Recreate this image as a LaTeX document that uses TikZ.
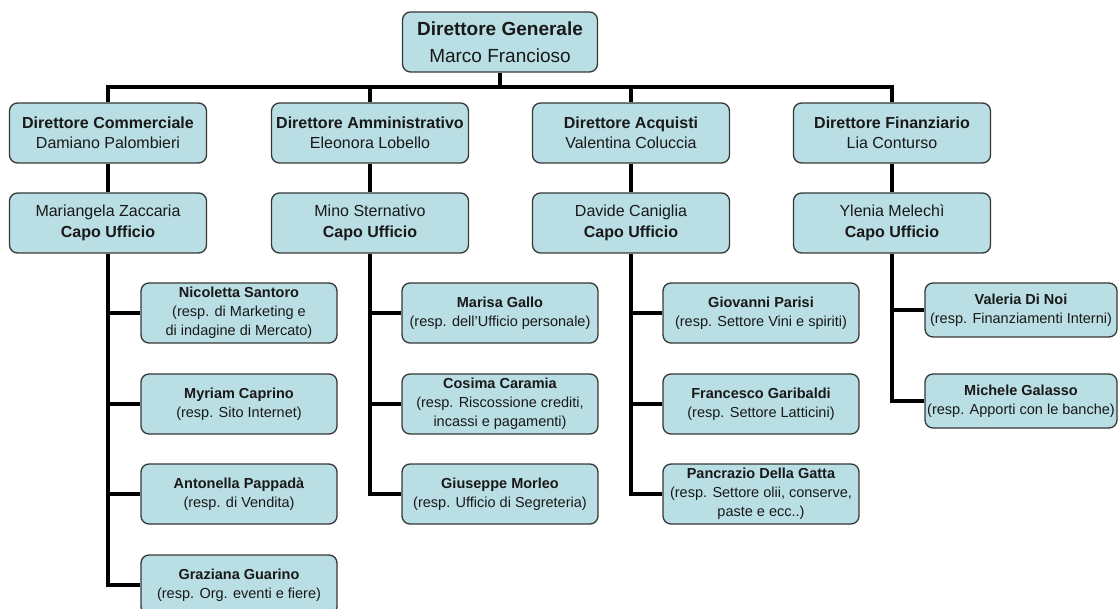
\documentclass[tikz,border=0pt]{standalone}
\usepackage{fontspec}
\setmainfont{Liberation Sans}
\usetikzlibrary{positioning}
\definecolor{boxfill}{RGB}{185,222,228}
\definecolor{boxline}{RGB}{55,55,55}

\begin{document}
\begin{tikzpicture}[
  x=1pt, y=-1pt,
  box/.style={draw=boxline,fill=boxfill,line width=1.3pt,rounded corners=8pt,align=center,text=black!90},
  topbox/.style={box,minimum width=195pt,minimum height=60pt,font=\fontsize{19}{27}\selectfont},
  headbox/.style={box,minimum width=197pt,minimum height=60pt,inner sep=2pt,font=\fontsize{16}{20.5}\selectfont},
  staffbox/.style={box,minimum width=196pt,minimum height=60pt,inner sep=2pt,font=\fontsize{14.5}{19}\selectfont},
  finbox/.style={staffbox,minimum width=192pt,minimum height=54pt},
  link/.style={line width=3.2pt,black}
]
\useasboundingbox (0,0) rectangle (1119,609);
\clip (0,0) rectangle (1119,609);

% ---- vertice ----
\node[topbox] (dg) at (500,42) {\textbf{Direttore Generale}\\Marco Francioso};

% ---- direttori ----
\node[headbox] (dcom) at (108,133) {\textbf{Direttore Commerciale}\\Damiano Palombieri};
\node[headbox] (damm) at (370,133) {\textbf{Direttore Amministrativo}\\Eleonora Lobello};
\node[headbox] (dacq) at (631,133) {\textbf{Direttore Acquisti}\\Valentina Coluccia};
\node[headbox] (dfin) at (892,133) {\textbf{Direttore Finanziario}\\Lia Conturso};

% ---- capi ufficio ----
\node[headbox] (cap1) at (108,223) {Mariangela Zaccaria\\\textbf{Capo Ufficio}};
\node[headbox] (cap2) at (370,223) {Mino Sternativo\\\textbf{Capo Ufficio}};
\node[headbox] (cap3) at (631,223) {Davide Caniglia\\\textbf{Capo Ufficio}};
\node[headbox] (cap4) at (892,223) {Ylenia Melechì\\\textbf{Capo Ufficio}};

% ---- area commerciale ----
\node[staffbox] (nsant) at (239,313) {\textbf{Nicoletta Santoro}\\(resp. di Marketing e\\di indagine di Mercato)};
\node[staffbox] (mcapr) at (239,404) {\textbf{Myriam Caprino}\\(resp. Sito Internet)};
\node[staffbox] (apapp) at (239,494) {\textbf{Antonella Pappadà}\\(resp. di Vendita)};
\node[staffbox] (gguar) at (239,585) {\textbf{Graziana Guarino}\\(resp. Org. eventi e fiere)};

% ---- area amministrativa ----
\node[staffbox] (mgall) at (500,313) {\textbf{Marisa Gallo}\\(resp. dell'Ufficio personale)};
\node[staffbox] (ccara) at (500,404) {\textbf{Cosima Caramia}\\(resp. Riscossione crediti,\\incassi e pagamenti)};
\node[staffbox] (gmorl) at (500,494) {\textbf{Giuseppe Morleo}\\(resp. Ufficio di Segreteria)};

% ---- area acquisti ----
\node[staffbox] (gpari) at (761,313) {\textbf{Giovanni Parisi}\\(resp. Settore Vini e spiriti)};
\node[staffbox] (fgari) at (761,404) {\textbf{Francesco Garibaldi}\\(resp. Settore Latticini)};
\node[staffbox] (pgatt) at (761,494) {\textbf{Pancrazio Della Gatta}\\(resp. Settore olii, conserve,\\paste e ecc..)};

% ---- area finanziaria ----
\node[finbox] (vdnoi) at (1021,310) {\textbf{Valeria Di Noi}\\(resp. Finanziamenti Interni)};
\node[finbox] (mgala) at (1021,401) {\textbf{Michele Galasso}\\(resp. Apporti con le banche)};

% ---- collegamenti ----
\coordinate (bus) at (500,87);
\draw[link] (dg.south) -- (bus);
\draw[link] (bus) -| (dcom.north) (bus) -| (damm.north)
            (bus) -| (dacq.north) (bus) -| (dfin.north);
\draw[link] (dcom.south) -- (cap1.north) (damm.south) -- (cap2.north)
            (dacq.south) -- (cap3.north) (dfin.south) -- (cap4.north);
\draw[link] (cap1.south) |- (nsant.west) (cap1.south) |- (mcapr.west)
            (cap1.south) |- (apapp.west) (cap1.south) |- (gguar.west);
\draw[link] (cap2.south) |- (mgall.west) (cap2.south) |- (ccara.west)
            (cap2.south) |- (gmorl.west);
\draw[link] (cap3.south) |- (gpari.west) (cap3.south) |- (fgari.west)
            (cap3.south) |- (pgatt.west);
\draw[link] (cap4.south) |- (vdnoi.west) (cap4.south) |- (mgala.west);

\end{tikzpicture}
\end{document}
